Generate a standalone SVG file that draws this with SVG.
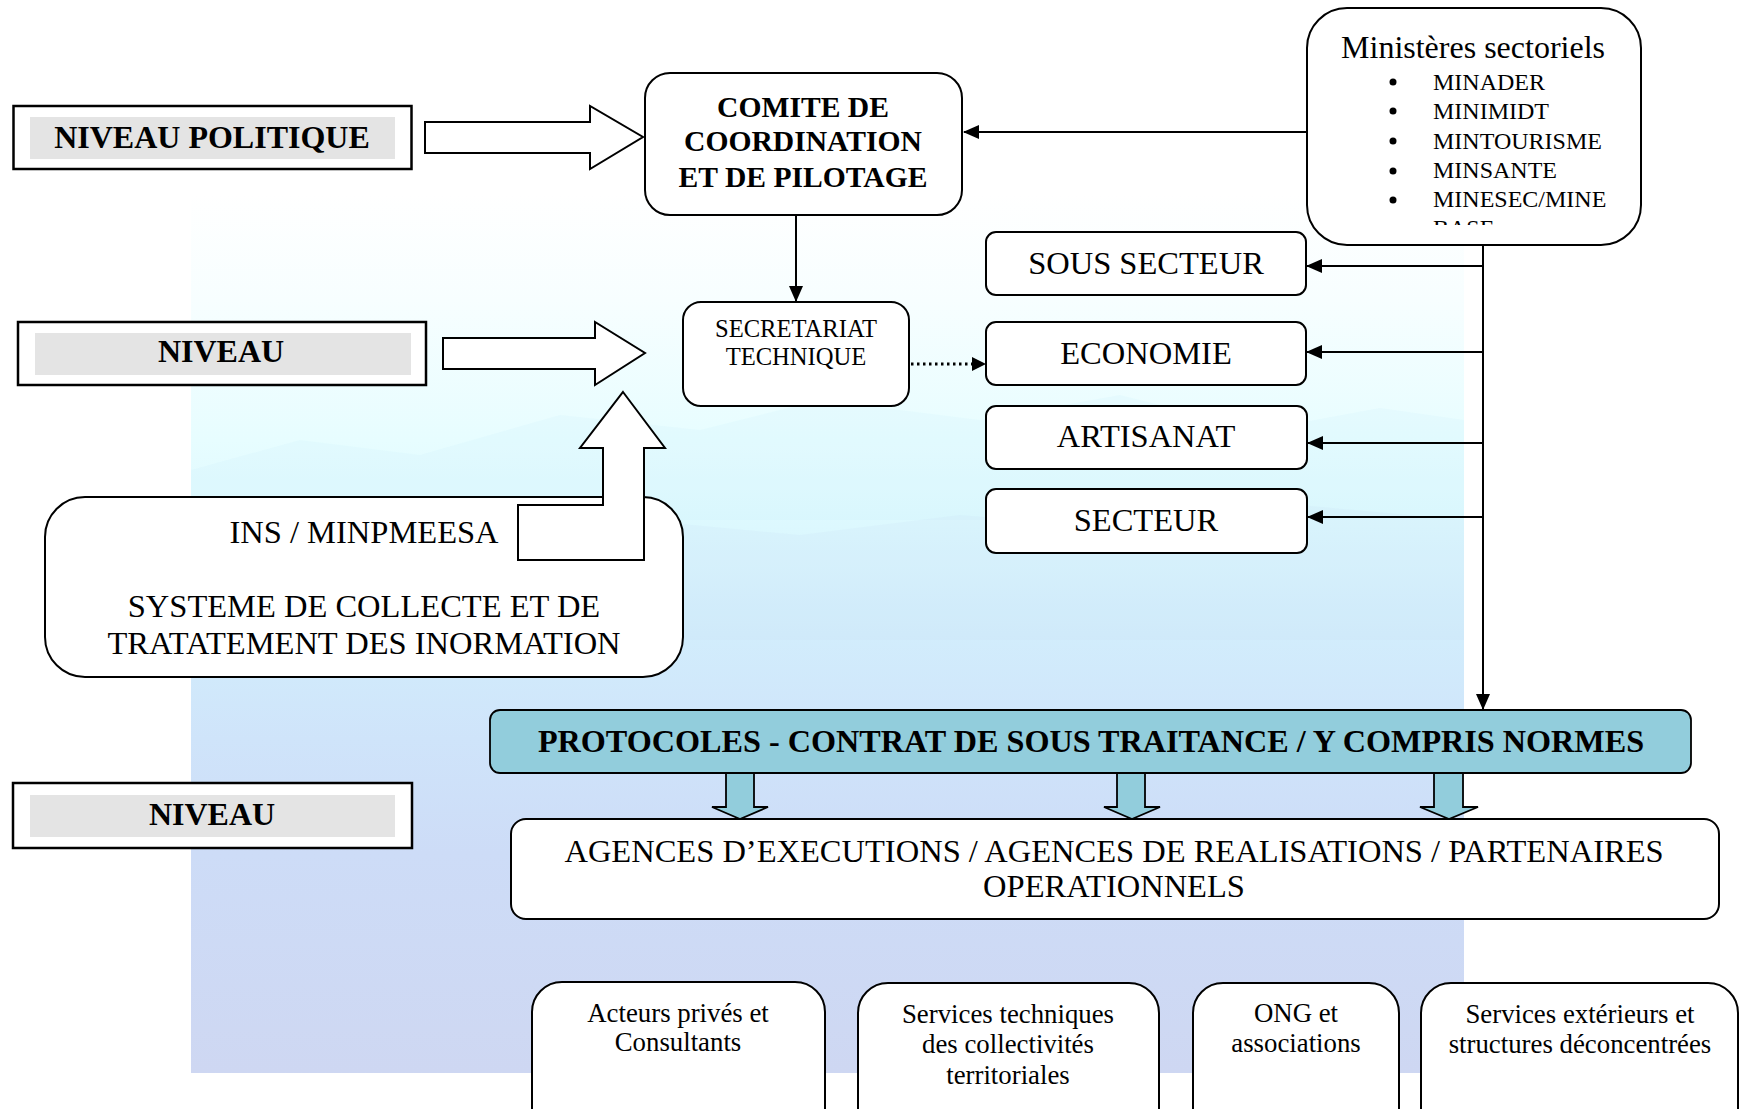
<svg xmlns="http://www.w3.org/2000/svg" width="1742" height="1109" viewBox="0 0 1742 1109">
<style>
.box{fill:#fff;stroke:#000;stroke-width:2}
.lvl{fill:#fff;stroke:#000;stroke-width:2.5}
.gray{fill:#e4e4e4}
.t{font-family:"Liberation Serif","Times New Roman",serif;fill:#000;text-anchor:middle}
.b{font-weight:bold}
.big{font-size:32.5px}
.small{font-size:26.8px}
.conn{stroke:#000;stroke-width:2;fill:none}
.blk{fill:#fff;stroke:#000;stroke-width:2;stroke-linejoin:miter}
.teal{fill:#92cddc;stroke:#000;stroke-width:1.8}
</style>
<defs>
<linearGradient id="bg" gradientUnits="userSpaceOnUse" x1="0" y1="194" x2="0" y2="1073">
<stop offset="0" stop-color="#ffffff"/>
<stop offset="0.12" stop-color="#f7feff"/>
<stop offset="0.28" stop-color="#e7fdff"/>
<stop offset="0.38" stop-color="#dcf8fe"/>
<stop offset="0.5" stop-color="#d2edfc"/>
<stop offset="0.62" stop-color="#cfe4fa"/>
<stop offset="0.75" stop-color="#cddcf7"/>
<stop offset="1" stop-color="#ced7f2"/>
</linearGradient>
<marker id="ah" markerWidth="16" markerHeight="14" refX="15" refY="7" orient="auto" markerUnits="userSpaceOnUse">
<path d="M0,0 L16,7 L0,14 Z" fill="#000"/>
</marker>
<clipPath id="minclip"><rect x="1300" y="8" width="350" height="217"/></clipPath>
</defs>

<g id="background">
<rect x="191" y="194" width="1273" height="879" fill="url(#bg)"/>
<path d="M191,470 L300,440 L420,455 L560,415 L700,430 L820,400 L980,420 L1120,395 L1260,430 L1380,408 L1464,420 L1464,520 L191,520 Z" fill="#cfeff8" opacity="0.2"/>
<path d="M191,560 L320,535 L480,545 L640,520 L800,535 L960,515 L1120,528 L1300,505 L1464,520 L1464,640 L191,640 Z" fill="#c6dff6" opacity="0.18"/>
</g>

<g id="connectors">
<line class="conn" x1="1307" y1="132" x2="964" y2="132" marker-end="url(#ah)"/>
<line class="conn" x1="796" y1="215" x2="796" y2="301" marker-end="url(#ah)"/>
<line x1="911" y1="364" x2="972" y2="364" stroke="#000" stroke-width="3" stroke-dasharray="2.5 3.5"/>
<path d="M972,357 L986,364 L972,371 Z" fill="#000"/>
<line class="conn" x1="1483" y1="245" x2="1483" y2="709" marker-end="url(#ah)"/>
<line class="conn" x1="1483" y1="266" x2="1307" y2="266" marker-end="url(#ah)"/>
<line class="conn" x1="1483" y1="352" x2="1307" y2="352" marker-end="url(#ah)"/>
<line class="conn" x1="1483" y1="443" x2="1308" y2="443" marker-end="url(#ah)"/>
<line class="conn" x1="1483" y1="517" x2="1308" y2="517" marker-end="url(#ah)"/>
<polygon class="teal" points="726,773 754,773 754,807 768,807 740,819 712,807 726,807"/>
<polygon class="teal" points="1117,773 1145,773 1145,807 1160,807 1132,819 1104,807 1117,807"/>
<polygon class="teal" points="1434,773 1463,773 1463,807 1478,807 1449,819 1420,807 1434,807"/>
</g>

<g id="niveau-politique">
<rect class="lvl" x="13.5" y="106" width="398" height="63"/>
<rect class="gray" x="30" y="117" width="365" height="42"/>
<text class="t b" x="212" y="148" font-size="32">NIVEAU POLITIQUE</text>
</g>
<polygon id="arrow-politique" class="blk" points="425,122 590,122 590,106 643,137 590,169 590,153 425,153"/>

<g id="niveau-2">
<rect class="lvl" x="18" y="322" width="408" height="63"/>
<rect class="gray" x="35" y="333" width="376" height="42"/>
<text class="t b" x="221" y="362" font-size="32">NIVEAU</text>
</g>
<polygon id="arrow-niveau" class="blk" points="443,338 595,338 595,322 645,353 595,385 595,369 443,369"/>

<g id="niveau-3">
<rect class="lvl" x="13" y="783" width="399" height="65"/>
<rect class="gray" x="30" y="795" width="365" height="42"/>
<text class="t b" x="212" y="825" font-size="32">NIVEAU</text>
</g>

<g id="comite">
<rect class="box" x="645" y="73" width="317" height="142" rx="25"/>
<text class="t b" x="803" y="117" font-size="29.6">COMITE DE</text>
<text class="t b" x="803" y="151" font-size="29.6">COORDINATION</text>
<text class="t b" x="803" y="187" font-size="29.6">ET DE PILOTAGE</text>
</g>

<g id="ministeres">
<rect class="box" x="1307" y="8" width="334" height="237" rx="40"/>
<text class="t" x="1473" y="58" font-size="32">Ministères sectoriels</text>
<g clip-path="url(#minclip)">
<circle cx="1393" cy="82" r="3.5"/>
<circle cx="1393" cy="111" r="3.5"/>
<circle cx="1393" cy="141" r="3.5"/>
<circle cx="1393" cy="171" r="3.5"/>
<circle cx="1393" cy="200" r="3.5"/>
<g font-family="Liberation Serif, Times New Roman, serif" font-size="24">
<text x="1433" y="90">MINADER</text>
<text x="1433" y="119">MINIMIDT</text>
<text x="1433" y="149">MINTOURISME</text>
<text x="1433" y="178">MINSANTE</text>
<text x="1433" y="207">MINESEC/MINE</text>
<text x="1433" y="236">BASE</text>
</g>
</g>
</g>

<g id="secretariat">
<rect class="box" x="683" y="302" width="226" height="104" rx="18"/>
<text class="t" x="796" y="337" font-size="24.6">SECRETARIAT</text>
<text class="t" x="796" y="365" font-size="24.6">TECHNIQUE</text>
</g>

<g id="sous-secteur">
<rect class="box" x="986" y="232" width="320" height="63" rx="10"/>
<text class="t big" x="1146" y="274">SOUS SECTEUR</text>
</g>
<g id="economie">
<rect class="box" x="986" y="322" width="320" height="63" rx="10"/>
<text class="t big" x="1146" y="364">ECONOMIE</text>
</g>
<g id="artisanat">
<rect class="box" x="986" y="406" width="321" height="63" rx="10"/>
<text class="t big" x="1146" y="447">ARTISANAT</text>
</g>
<g id="secteur">
<rect class="box" x="986" y="489" width="321" height="64" rx="10"/>
<text class="t big" x="1146" y="531">SECTEUR</text>
</g>

<g id="ins">
<rect class="box" x="45" y="497" width="638" height="180" rx="40"/>
<text class="t big" x="364" y="543">INS / MINPMEESA</text>
<text class="t big" x="364" y="617">SYSTEME DE COLLECTE ET DE</text>
<text class="t big" x="364" y="654">TRATATEMENT DES INORMATION</text>
</g>
<polygon id="arrow-ins" class="blk" points="623,392 665,448 644,448 644,560 518,560 518,505 603,505 603,448 580,448"/>

<g id="protocoles">
<rect class="teal" x="490" y="710" width="1201" height="63" rx="10" stroke-width="2"/>
<text class="t b" x="1091" y="752" font-size="32.2">PROTOCOLES - CONTRAT DE SOUS TRAITANCE / Y COMPRIS NORMES</text>
</g>

<g id="agences">
<rect class="box" x="511" y="819" width="1208" height="100" rx="15"/>
<text class="t big" x="1114" y="862">AGENCES D’EXECUTIONS / AGENCES DE REALISATIONS / PARTENAIRES</text>
<text class="t big" x="1114" y="897">OPERATIONNELS</text>
</g>

<g id="acteurs">
<rect class="box" x="532" y="982" width="293" height="160" rx="30"/>
<text class="t small" x="678" y="1022">Acteurs privés et</text>
<text class="t small" x="678" y="1051">Consultants</text>
</g>
<g id="services-techniques">
<rect class="box" x="858" y="983" width="301" height="160" rx="30"/>
<text class="t small" x="1008" y="1023">Services techniques</text>
<text class="t small" x="1008" y="1053">des collectivités</text>
<text class="t small" x="1008" y="1084">territoriales</text>
</g>
<g id="ong">
<rect class="box" x="1193" y="983" width="206" height="160" rx="30"/>
<text class="t small" x="1296" y="1022">ONG et</text>
<text class="t small" x="1296" y="1052">associations</text>
</g>
<g id="services-exterieurs">
<rect class="box" x="1421" y="983" width="317" height="160" rx="30"/>
<text class="t small" x="1580" y="1023">Services extérieurs et</text>
<text class="t small" x="1580" y="1053">structures déconcentrées</text>
</g>
</svg>
